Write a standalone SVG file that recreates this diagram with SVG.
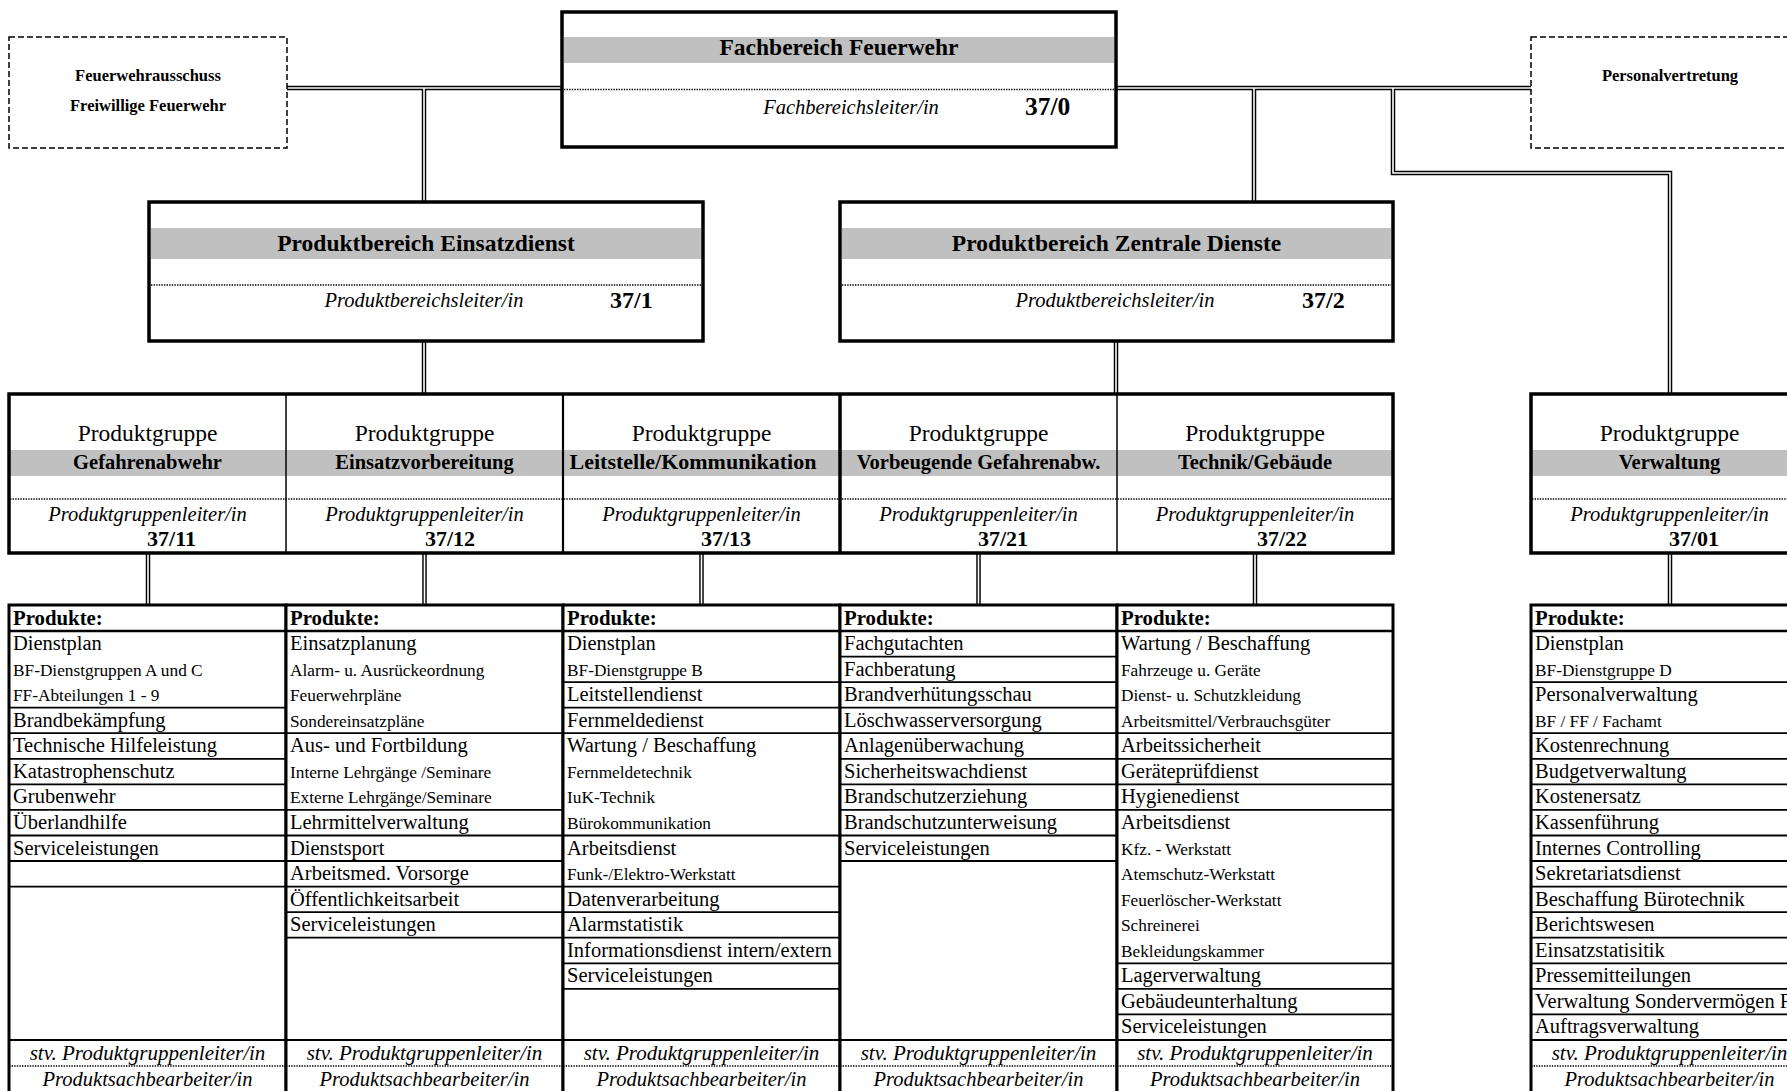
<svg xmlns="http://www.w3.org/2000/svg" width="1787" height="1091" viewBox="0 0 1787 1091">
<style>
text{font-family:"Liberation Serif","Times New Roman",serif;fill:#000}
.box{fill:#fff;stroke:#000;stroke-width:3.5}
.dash{fill:#fff;stroke:#000;stroke-width:1.5;stroke-dasharray:6 3}
.band{fill:#c0c0c0}
.dot{stroke:#000;stroke-width:1.6;stroke-dasharray:1.4 1.2;fill:none}
.cb{fill:none;stroke:#000;stroke-width:4.5}
.cw{fill:none;stroke:#fff;stroke-width:1.6}
.col{fill:#fff;stroke:#000;stroke-width:3}
.rl{stroke:#000;stroke-width:1.8}
.hl{stroke:#000;stroke-width:2.6}
.ttl{font-weight:bold;font-size:23.5px;text-anchor:middle}
.lead{font-style:italic;font-size:20.5px;text-anchor:middle}
.num{font-weight:bold;font-size:24px}
.sm{font-weight:bold;font-size:16.5px;text-anchor:middle}
.pg{font-size:23.5px;text-anchor:middle}
.pgb{font-weight:bold;font-size:20.5px;text-anchor:middle}
.pgn{font-weight:bold;font-size:22px;text-anchor:end}
.hd{font-weight:bold;font-size:20.8px}
.L{font-size:20.5px}
.S{font-size:17.3px}
.stv{font-style:italic;font-size:21px;text-anchor:middle}
.it{font-style:italic;font-size:20.5px;text-anchor:middle}
</style>

<g id="connectors">
  <path class="cb" d="M287,88 H1531"/>
  <path class="cb" d="M424,88 V202"/>
  <path class="cb" d="M1254,88 V202"/>
  <path class="cb" d="M1393,88 V173 H1670 V394"/>
  <path class="cb" d="M424,341 V394"/>
  <path class="cb" d="M1116,341 V394"/>
  <path class="cb" d="M148,553 V605 M424.5,553 V605 M701.5,553 V605 M978.5,553 V605 M1255,553 V605 M1670,553 V605"/>
  <path class="cw" d="M287,88 H1531"/>
  <path class="cw" d="M424,88 V202"/>
  <path class="cw" d="M1254,88 V202"/>
  <path class="cw" d="M1393,88 V173 H1670 V394"/>
  <path class="cw" d="M424,341 V394"/>
  <path class="cw" d="M1116,341 V394"/>
  <path class="cw" d="M148,553 V605 M424.5,553 V605 M701.5,553 V605 M978.5,553 V605 M1255,553 V605 M1670,553 V605"/>
</g>

<g id="feuerwehrausschuss">
  <rect class="dash" x="9" y="37" width="278" height="111"/>
  <text class="sm" x="148" y="81">Feuerwehrausschuss</text>
  <text class="sm" x="148" y="111">Freiwillige Feuerwehr</text>
</g>

<g id="personalvertretung">
  <rect class="dash" x="1531" y="37" width="278" height="111"/>
  <text class="sm" x="1670" y="81">Personalvertretung</text>
</g>

<g id="fachbereich">
  <rect class="box" x="562" y="12" width="554" height="135"/>
  <rect class="band" x="564" y="37" width="550" height="26"/>
  <text class="ttl" x="839" y="55">Fachbereich Feuerwehr</text>
  <line class="dot" x1="564" y1="89.5" x2="1114" y2="89.5"/>
  <text class="lead" x="851" y="114">Fachbereichsleiter/in</text>
  <text class="num" x="1025" y="115" style="font-size:25.5px">37/0</text>
</g>

<g id="pb-einsatzdienst">
  <rect class="box" x="149" y="202" width="554" height="139"/>
  <rect class="band" x="151" y="228" width="550" height="31"/>
  <text class="ttl" x="426" y="251">Produktbereich Einsatzdienst</text>
  <line class="dot" x1="151" y1="285" x2="701" y2="285"/>
  <text class="lead" x="424" y="307">Produktbereichsleiter/in</text>
  <text class="num" x="610" y="308">37/1</text>
</g>

<g id="pb-zentrale">
  <rect class="box" x="840" y="202" width="553" height="139"/>
  <rect class="band" x="842" y="228" width="549" height="31"/>
  <text class="ttl" x="1116.5" y="251">Produktbereich Zentrale Dienste</text>
  <line class="dot" x1="842" y1="285" x2="1391" y2="285"/>
  <text class="lead" x="1115" y="307">Produktbereichsleiter/in</text>
  <text class="num" x="1302" y="308">37/2</text>
</g>

<g id="pg-row-frame">
  <rect fill="#fff" x="9" y="394" width="1384" height="159"/>
  <rect class="band" x="10" y="450" width="1382" height="26"/>
  <line class="dot" x1="10" y1="499" x2="1392" y2="499"/>
  <line stroke="#000" stroke-width="1.5" x1="286" y1="394" x2="286" y2="553"/>
  <line stroke="#000" stroke-width="2.2" x1="563" y1="394" x2="563" y2="553"/>
  <line stroke="#000" stroke-width="3.5" x1="840" y1="394" x2="840" y2="553"/>
  <line stroke="#000" stroke-width="1.5" x1="1117" y1="394" x2="1117" y2="553"/>
  <rect x="9" y="394" width="1384" height="159" fill="none" stroke="#000" stroke-width="3.5"/>
</g>

<g id="pg-gefahrenabwehr">
  <text class="pg" x="147.5" y="441">Produktgruppe</text>
  <text class="pgb" x="147.5" y="469">Gefahrenabwehr</text>
  <text class="lead" x="147.5" y="521">Produktgruppenleiter/in</text>
  <text class="pgn" x="196" y="546">37/11</text>
</g>
<g id="pg-einsatzvorbereitung">
  <text class="pg" x="424.5" y="441">Produktgruppe</text>
  <text class="pgb" x="424.5" y="469">Einsatzvorbereitung</text>
  <text class="lead" x="424.5" y="521">Produktgruppenleiter/in</text>
  <text class="pgn" x="475" y="546">37/12</text>
</g>
<g id="pg-leitstelle">
  <text class="pg" x="701.5" y="441">Produktgruppe</text>
  <text class="pgb" x="693" y="469" style="font-size:22px">Leitstelle/Kommunikation</text>
  <text class="lead" x="701.5" y="521">Produktgruppenleiter/in</text>
  <text class="pgn" x="751" y="546">37/13</text>
</g>
<g id="pg-vorbeugende">
  <text class="pg" x="978.5" y="441">Produktgruppe</text>
  <text class="pgb" x="978.5" y="469">Vorbeugende Gefahrenabw.</text>
  <text class="lead" x="978.5" y="521">Produktgruppenleiter/in</text>
  <text class="pgn" x="1028" y="546">37/21</text>
</g>
<g id="pg-technik">
  <text class="pg" x="1255" y="441">Produktgruppe</text>
  <text class="pgb" x="1255" y="469">Technik/Gebäude</text>
  <text class="lead" x="1255" y="521">Produktgruppenleiter/in</text>
  <text class="pgn" x="1307" y="546">37/22</text>
</g>
<g id="pg-verwaltung">
  <rect fill="#fff" x="1531" y="394" width="277" height="159"/>
  <rect class="band" x="1532" y="450" width="275" height="26"/>
  <line class="dot" x1="1532" y1="499" x2="1807" y2="499"/>
  <rect x="1531" y="394" width="277" height="159" fill="none" stroke="#000" stroke-width="3.5"/>
  <text class="pg" x="1669.5" y="441">Produktgruppe</text>
  <text class="pgb" x="1669.5" y="469">Verwaltung</text>
  <text class="lead" x="1669.5" y="521">Produktgruppenleiter/in</text>
  <text class="pgn" x="1719" y="546">37/01</text>
</g>

<g id="produkte-gefahrenabwehr">
  <rect class="col" x="9" y="605" width="277" height="495"/>
  <line class="hl" x1="9" y1="631" x2="286" y2="631"/>
  <g class="rl">
    <line x1="9" y1="707.7" x2="286" y2="707.7"/>
    <line x1="9" y1="733.2" x2="286" y2="733.2"/>
    <line x1="9" y1="758.8" x2="286" y2="758.8"/>
    <line x1="9" y1="784.4" x2="286" y2="784.4"/>
    <line x1="9" y1="809.9" x2="286" y2="809.9"/>
    <line x1="9" y1="835.5" x2="286" y2="835.5"/>
    <line x1="9" y1="861" x2="286" y2="861"/>
    <line x1="9" y1="886.6" x2="286" y2="886.6"/>
    <line x1="9" y1="1040" x2="286" y2="1040"/>
  </g>
  <line class="dot" x1="9" y1="1066" x2="286" y2="1066"/>
  <text class="hd" x="13" y="625">Produkte:</text>
  <text class="L" x="13" y="650">Dienstplan</text>
  <text class="S" x="13" y="675.6">BF-Dienstgruppen A und C</text>
  <text class="S" x="13" y="701.1">FF-Abteilungen 1 - 9</text>
  <text class="L" x="13" y="726.7">Brandbekämpfung</text>
  <text class="L" x="13" y="752.2">Technische Hilfeleistung</text>
  <text class="L" x="13" y="777.8">Katastrophenschutz</text>
  <text class="L" x="13" y="803.4">Grubenwehr</text>
  <text class="L" x="13" y="828.9">Überlandhilfe</text>
  <text class="L" x="13" y="854.5">Serviceleistungen</text>
  <text class="stv" x="147.5" y="1060">stv. Produktgruppenleiter/in</text>
  <text class="it" x="147.5" y="1086">Produktsachbearbeiter/in</text>
</g>

<g id="produkte-einsatzvorbereitung">
  <rect class="col" x="286" y="605" width="277" height="495"/>
  <line class="hl" x1="286" y1="631" x2="563" y2="631"/>
  <g class="rl">
    <line x1="286" y1="733.2" x2="563" y2="733.2"/>
    <line x1="286" y1="809.9" x2="563" y2="809.9"/>
    <line x1="286" y1="835.5" x2="563" y2="835.5"/>
    <line x1="286" y1="861" x2="563" y2="861"/>
    <line x1="286" y1="886.6" x2="563" y2="886.6"/>
    <line x1="286" y1="912.2" x2="563" y2="912.2"/>
    <line x1="286" y1="937.7" x2="563" y2="937.7"/>
    <line x1="286" y1="1040" x2="563" y2="1040"/>
  </g>
  <line class="dot" x1="286" y1="1066" x2="563" y2="1066"/>
  <text class="hd" x="290" y="625">Produkte:</text>
  <text class="L" x="290" y="650">Einsatzplanung</text>
  <text class="S" x="290" y="675.6">Alarm- u. Ausrückeordnung</text>
  <text class="S" x="290" y="701.1">Feuerwehrpläne</text>
  <text class="S" x="290" y="726.7">Sondereinsatzpläne</text>
  <text class="L" x="290" y="752.2">Aus- und Fortbildung</text>
  <text class="S" x="290" y="777.8">Interne Lehrgänge /Seminare</text>
  <text class="S" x="290" y="803.4">Externe Lehrgänge/Seminare</text>
  <text class="L" x="290" y="828.9">Lehrmittelverwaltung</text>
  <text class="L" x="290" y="854.5">Dienstsport</text>
  <text class="L" x="290" y="880">Arbeitsmed. Vorsorge</text>
  <text class="L" x="290" y="905.6">Öffentlichkeitsarbeit</text>
  <text class="L" x="290" y="931.2">Serviceleistungen</text>
  <text class="stv" x="424.5" y="1060">stv. Produktgruppenleiter/in</text>
  <text class="it" x="424.5" y="1086">Produktsachbearbeiter/in</text>
</g>

<g id="produkte-leitstelle">
  <rect class="col" x="563" y="605" width="277" height="495"/>
  <line class="hl" x1="563" y1="631" x2="840" y2="631"/>
  <g class="rl">
    <line x1="563" y1="682.1" x2="840" y2="682.1"/>
    <line x1="563" y1="707.7" x2="840" y2="707.7"/>
    <line x1="563" y1="733.2" x2="840" y2="733.2"/>
    <line x1="563" y1="835.5" x2="840" y2="835.5"/>
    <line x1="563" y1="886.6" x2="840" y2="886.6"/>
    <line x1="563" y1="912.2" x2="840" y2="912.2"/>
    <line x1="563" y1="937.7" x2="840" y2="937.7"/>
    <line x1="563" y1="963.3" x2="840" y2="963.3"/>
    <line x1="563" y1="988.8" x2="840" y2="988.8"/>
    <line x1="563" y1="1040" x2="840" y2="1040"/>
  </g>
  <line class="dot" x1="563" y1="1066" x2="840" y2="1066"/>
  <text class="hd" x="567" y="625">Produkte:</text>
  <text class="L" x="567" y="650">Dienstplan</text>
  <text class="S" x="567" y="675.6">BF-Dienstgruppe B</text>
  <text class="L" x="567" y="701.1">Leitstellendienst</text>
  <text class="L" x="567" y="726.7">Fernmeldedienst</text>
  <text class="L" x="567" y="752.2">Wartung / Beschaffung</text>
  <text class="S" x="567" y="777.8">Fernmeldetechnik</text>
  <text class="S" x="567" y="803.4">IuK-Technik</text>
  <text class="S" x="567" y="828.9">Bürokommunikation</text>
  <text class="L" x="567" y="854.5">Arbeitsdienst</text>
  <text class="S" x="567" y="880">Funk-/Elektro-Werkstatt</text>
  <text class="L" x="567" y="905.6">Datenverarbeitung</text>
  <text class="L" x="567" y="931.2">Alarmstatistik</text>
  <text class="L" x="567" y="956.7">Informationsdienst intern/extern</text>
  <text class="L" x="567" y="982.3">Serviceleistungen</text>
  <text class="stv" x="701.5" y="1060">stv. Produktgruppenleiter/in</text>
  <text class="it" x="701.5" y="1086">Produktsachbearbeiter/in</text>
</g>

<g id="produkte-vorbeugende">
  <rect class="col" x="840" y="605" width="277" height="495"/>
  <line class="hl" x1="840" y1="631" x2="1117" y2="631"/>
  <g class="rl">
    <line x1="840" y1="656.6" x2="1117" y2="656.6"/>
    <line x1="840" y1="682.1" x2="1117" y2="682.1"/>
    <line x1="840" y1="707.7" x2="1117" y2="707.7"/>
    <line x1="840" y1="733.2" x2="1117" y2="733.2"/>
    <line x1="840" y1="758.8" x2="1117" y2="758.8"/>
    <line x1="840" y1="784.4" x2="1117" y2="784.4"/>
    <line x1="840" y1="809.9" x2="1117" y2="809.9"/>
    <line x1="840" y1="835.5" x2="1117" y2="835.5"/>
    <line x1="840" y1="861" x2="1117" y2="861"/>
    <line x1="840" y1="1040" x2="1117" y2="1040"/>
  </g>
  <line class="dot" x1="840" y1="1066" x2="1117" y2="1066"/>
  <text class="hd" x="844" y="625">Produkte:</text>
  <text class="L" x="844" y="650">Fachgutachten</text>
  <text class="L" x="844" y="675.6">Fachberatung</text>
  <text class="L" x="844" y="701.1">Brandverhütungsschau</text>
  <text class="L" x="844" y="726.7">Löschwasserversorgung</text>
  <text class="L" x="844" y="752.2">Anlagenüberwachung</text>
  <text class="L" x="844" y="777.8">Sicherheitswachdienst</text>
  <text class="L" x="844" y="803.4">Brandschutzerziehung</text>
  <text class="L" x="844" y="828.9">Brandschutzunterweisung</text>
  <text class="L" x="844" y="854.5">Serviceleistungen</text>
  <text class="stv" x="978.5" y="1060">stv. Produktgruppenleiter/in</text>
  <text class="it" x="978.5" y="1086">Produktsachbearbeiter/in</text>
</g>

<g id="produkte-technik">
  <rect class="col" x="1117" y="605" width="276" height="495"/>
  <line class="hl" x1="1117" y1="631" x2="1393" y2="631"/>
  <g class="rl">
    <line x1="1117" y1="733.2" x2="1393" y2="733.2"/>
    <line x1="1117" y1="758.8" x2="1393" y2="758.8"/>
    <line x1="1117" y1="784.4" x2="1393" y2="784.4"/>
    <line x1="1117" y1="809.9" x2="1393" y2="809.9"/>
    <line x1="1117" y1="963.3" x2="1393" y2="963.3"/>
    <line x1="1117" y1="988.8" x2="1393" y2="988.8"/>
    <line x1="1117" y1="1014.4" x2="1393" y2="1014.4"/>
    <line x1="1117" y1="1040" x2="1393" y2="1040"/>
  </g>
  <line class="dot" x1="1117" y1="1066" x2="1393" y2="1066"/>
  <text class="hd" x="1121" y="625">Produkte:</text>
  <text class="L" x="1121" y="650">Wartung / Beschaffung</text>
  <text class="S" x="1121" y="675.6">Fahrzeuge u. Geräte</text>
  <text class="S" x="1121" y="701.1">Dienst- u. Schutzkleidung</text>
  <text class="S" x="1121" y="726.7">Arbeitsmittel/Verbrauchsgüter</text>
  <text class="L" x="1121" y="752.2">Arbeitssicherheit</text>
  <text class="L" x="1121" y="777.8">Geräteprüfdienst</text>
  <text class="L" x="1121" y="803.4">Hygienedienst</text>
  <text class="L" x="1121" y="828.9">Arbeitsdienst</text>
  <text class="S" x="1121" y="854.5">Kfz. - Werkstatt</text>
  <text class="S" x="1121" y="880">Atemschutz-Werkstatt</text>
  <text class="S" x="1121" y="905.6">Feuerlöscher-Werkstatt</text>
  <text class="S" x="1121" y="931.2">Schreinerei</text>
  <text class="S" x="1121" y="956.7">Bekleidungskammer</text>
  <text class="L" x="1121" y="982.3">Lagerverwaltung</text>
  <text class="L" x="1121" y="1007.8">Gebäudeunterhaltung</text>
  <text class="L" x="1121" y="1033.4">Serviceleistungen</text>
  <text class="stv" x="1255" y="1060">stv. Produktgruppenleiter/in</text>
  <text class="it" x="1255" y="1086">Produktsachbearbeiter/in</text>
</g>

<g id="produkte-verwaltung">
  <rect class="col" x="1531" y="605" width="277" height="495"/>
  <line class="hl" x1="1531" y1="631" x2="1808" y2="631"/>
  <g class="rl">
    <line x1="1531" y1="682.1" x2="1808" y2="682.1"/>
    <line x1="1531" y1="733.2" x2="1808" y2="733.2"/>
    <line x1="1531" y1="758.8" x2="1808" y2="758.8"/>
    <line x1="1531" y1="784.4" x2="1808" y2="784.4"/>
    <line x1="1531" y1="809.9" x2="1808" y2="809.9"/>
    <line x1="1531" y1="835.5" x2="1808" y2="835.5"/>
    <line x1="1531" y1="861" x2="1808" y2="861"/>
    <line x1="1531" y1="886.6" x2="1808" y2="886.6"/>
    <line x1="1531" y1="912.2" x2="1808" y2="912.2"/>
    <line x1="1531" y1="937.7" x2="1808" y2="937.7"/>
    <line x1="1531" y1="963.3" x2="1808" y2="963.3"/>
    <line x1="1531" y1="988.8" x2="1808" y2="988.8"/>
    <line x1="1531" y1="1014.4" x2="1808" y2="1014.4"/>
    <line x1="1531" y1="1040" x2="1808" y2="1040"/>
  </g>
  <line class="dot" x1="1531" y1="1066" x2="1808" y2="1066"/>
  <text class="hd" x="1535" y="625">Produkte:</text>
  <text class="L" x="1535" y="650">Dienstplan</text>
  <text class="S" x="1535" y="675.6">BF-Dienstgruppe D</text>
  <text class="L" x="1535" y="701.1">Personalverwaltung</text>
  <text class="S" x="1535" y="726.7">BF / FF / Fachamt</text>
  <text class="L" x="1535" y="752.2">Kostenrechnung</text>
  <text class="L" x="1535" y="777.8">Budgetverwaltung</text>
  <text class="L" x="1535" y="803.4">Kostenersatz</text>
  <text class="L" x="1535" y="828.9">Kassenführung</text>
  <text class="L" x="1535" y="854.5">Internes Controlling</text>
  <text class="L" x="1535" y="880">Sekretariatsdienst</text>
  <text class="L" x="1535" y="905.6">Beschaffung Bürotechnik</text>
  <text class="L" x="1535" y="931.2">Berichtswesen</text>
  <text class="L" x="1535" y="956.7">Einsatzstatisitik</text>
  <text class="L" x="1535" y="982.3">Pressemitteilungen</text>
  <text class="L" x="1535" y="1007.8">Verwaltung Sondervermögen F</text>
  <text class="L" x="1535" y="1033.4">Auftragsverwaltung</text>
  <text class="stv" x="1669.5" y="1060">stv. Produktgruppenleiter/in</text>
  <text class="it" x="1669.5" y="1086">Produktsachbearbeiter/in</text>
</g>
</svg>
